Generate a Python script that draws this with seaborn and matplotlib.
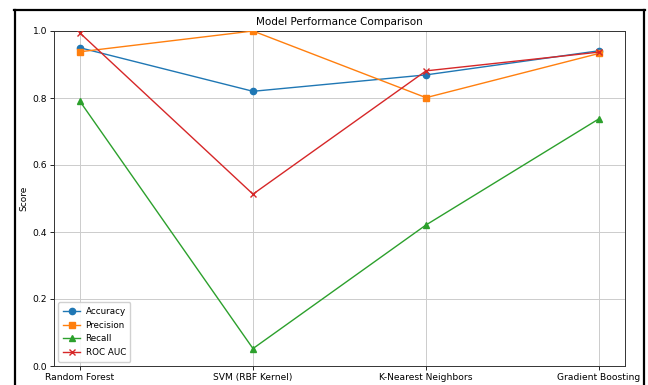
import numpy as np
import pandas as pd
import matplotlib
matplotlib.use("Agg")
import matplotlib.pyplot as plt
import seaborn as sns
from matplotlib.lines import Line2D

models = ["Random Forest", "SVM (RBF Kernel)", "K-Nearest Neighbors", "Gradient Boosting"]
accuracy = [0.950, 0.820, 0.869, 0.941]
precision = [0.938, 1.000, 0.801, 0.933]
recall = [0.790, 0.052, 0.421, 0.738]
roc_auc = [0.994, 0.513, 0.881, 0.937]
metric_names = ["Accuracy", "Precision", "Recall", "ROC AUC"]
markers = ["o", "s", "^", "x"]

series = [accuracy, precision, recall, roc_auc]
df = pd.DataFrame({
    "Model": models * 4,
    "Score": [v for s in series for v in s],
    "Metric": [m for m in metric_names for _ in models],
})

plt.rcParams["font.family"] = ["DejaVu Sans"]
fig = plt.figure(figsize=(6.48, 3.85), dpi=100)
ax = fig.add_axes([54/648, 1-366/385, (625-54)/648, (366-31)/385])

palette = sns.color_palette("tab10", 4)
for i, name in enumerate(metric_names):
    sub = df[df["Metric"] == name]
    sns.lineplot(data=sub, x="Model", y="Score", ax=ax, color=palette[i],
                 marker=markers[i], markersize=4.5, linewidth=1.0,
                 markeredgecolor=palette[i], markeredgewidth=1.0,
                 label=name, sort=False, zorder=3)

ax.set_ylim(0, 1.0)
ax.set_xlim(-0.15, 3.15)
ax.set_title("Model Performance Comparison", fontsize=7.5, pad=4)
ax.set_xlabel("")
ax.set_ylabel("Score", fontsize=6.5, labelpad=3)
ax.tick_params(axis="both", labelsize=6.6, length=3, width=0.6, pad=2)
ax.grid(True, color="#cccccc", linewidth=0.7)
ax.set_axisbelow(True)
for sp in ax.spines.values():
    sp.set_linewidth(0.7)
    sp.set_color("#333333")

leg = ax.legend(loc="lower left", fontsize=6.3, frameon=True, framealpha=0.9,
                edgecolor="#cccccc", borderpad=0.5, labelspacing=0.55,
                handlelength=2.0, handletextpad=0.6)

# outer black frame (left, top, right)
W, H = 648, 385
for (x0, y0, x1, y1) in [(15, 9.5, 15, 400), (14, 9.5, 645, 9.5), (644, 9.5, 644, 400)]:
    fig.add_artist(Line2D([x0/W, x1/W], [1-y0/H, 1-y1/H], color="black",
                          linewidth=1.6, transform=fig.transFigure, clip_on=False))

fig.savefig("out.png", dpi=100)
